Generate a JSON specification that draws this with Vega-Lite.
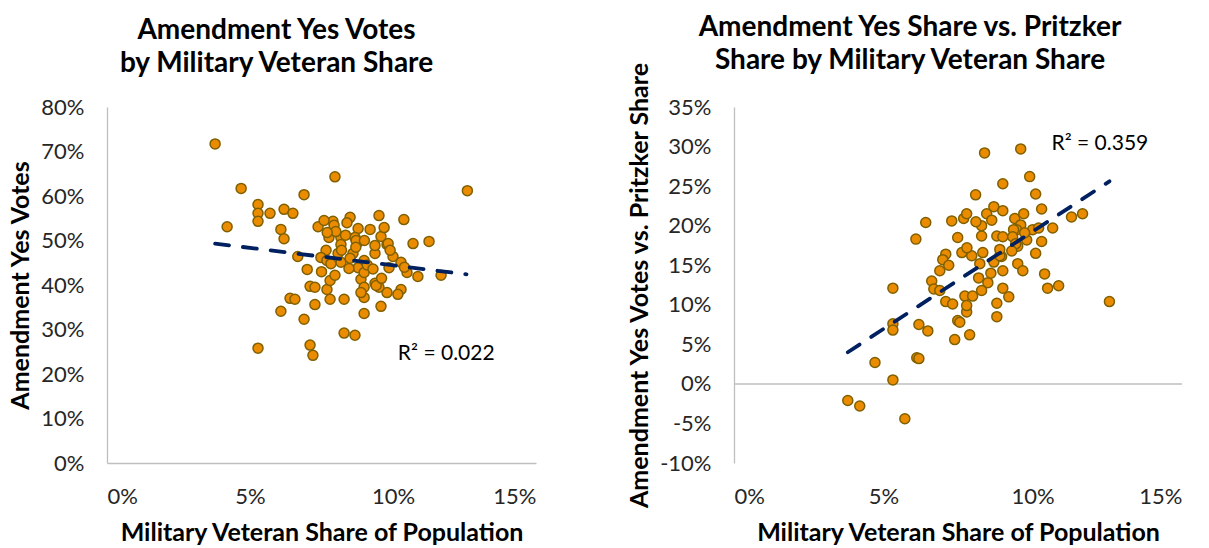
{
  "$schema": "https://vega.github.io/schema/vega-lite/v6.json",
  "background": "white",
  "padding": {"left": 8, "top": 13, "right": 0, "bottom": 0},
  "spacing": 91,
  "config": {
    "view": {"stroke": null},
    "font": "Lato",
    "axis": {
      "grid": false,
      "ticks": false,
      "domainColor": "#BFBFBF",
      "domainWidth": 1.3,
      "labelFont": "Lato",
      "labelFontSize": 22,
      "labelColor": "#262626",
      "labelOverlap": false,
      "titleFont": "Lato",
      "titleFontSize": 25,
      "titleFontWeight": "bold",
      "titleColor": "#000000"
    },
    "title": {"font": "Lato", "fontSize": 28, "fontWeight": "bold", "color": "#000000", "lineHeight": 33}
  },
  "datasets": {
    "yesVotes": [
      {"veteran": 0.0378, "share": 0.717}, {"veteran": 0.0469, "share": 0.617}, {"veteran": 0.042, "share": 0.531},
      {"veteran": 0.0528, "share": 0.581}, {"veteran": 0.0528, "share": 0.561}, {"veteran": 0.0528, "share": 0.543},
      {"veteran": 0.057, "share": 0.561}, {"veteran": 0.0619, "share": 0.570}, {"veteran": 0.065, "share": 0.561},
      {"veteran": 0.0608, "share": 0.525}, {"veteran": 0.0619, "share": 0.504}, {"veteran": 0.0689, "share": 0.603},
      {"veteran": 0.0797, "share": 0.643}, {"veteran": 0.126, "share": 0.612}, {"veteran": 0.0528, "share": 0.258},
      {"veteran": 0.0667, "share": 0.464}, {"veteran": 0.070, "share": 0.435}, {"veteran": 0.071, "share": 0.397},
      {"veteran": 0.0727, "share": 0.395}, {"veteran": 0.064, "share": 0.370}, {"veteran": 0.0657, "share": 0.368},
      {"veteran": 0.0608, "share": 0.341}, {"veteran": 0.0689, "share": 0.323}, {"veteran": 0.0727, "share": 0.356},
      {"veteran": 0.071, "share": 0.265}, {"veteran": 0.072, "share": 0.242}, {"veteran": 0.0738, "share": 0.531},
      {"veteran": 0.0951, "share": 0.556}, {"veteran": 0.1038, "share": 0.547}, {"veteran": 0.107, "share": 0.493},
      {"veteran": 0.1126, "share": 0.498}, {"veteran": 0.1168, "share": 0.422}, {"veteran": 0.1087, "share": 0.419},
      {"veteran": 0.1049, "share": 0.428}, {"veteran": 0.1028, "share": 0.390}, {"veteran": 0.1017, "share": 0.379},
      {"veteran": 0.0979, "share": 0.383}, {"veteran": 0.0958, "share": 0.352}, {"veteran": 0.0899, "share": 0.336},
      {"veteran": 0.0829, "share": 0.292}, {"veteran": 0.0867, "share": 0.287}, {"veteran": 0.0829, "share": 0.368},
      {"veteran": 0.078, "share": 0.368}, {"veteran": 0.0769, "share": 0.390}, {"veteran": 0.078, "share": 0.410},
      {"veteran": 0.0797, "share": 0.422}, {"veteran": 0.0888, "share": 0.413}, {"veteran": 0.0899, "share": 0.395},
      {"veteran": 0.0899, "share": 0.372}, {"veteran": 0.0888, "share": 0.383}, {"veteran": 0.0937, "share": 0.404},
      {"veteran": 0.0951, "share": 0.395}, {"veteran": 0.100, "share": 0.464}, {"veteran": 0.1028, "share": 0.451},
      {"veteran": 0.0986, "share": 0.439}, {"veteran": 0.0937, "share": 0.471}, {"veteran": 0.0937, "share": 0.489},
      {"veteran": 0.0958, "share": 0.509}, {"veteran": 0.0969, "share": 0.529}, {"veteran": 0.0979, "share": 0.491},
      {"veteran": 0.092, "share": 0.525}, {"veteran": 0.0878, "share": 0.527}, {"veteran": 0.085, "share": 0.552},
      {"veteran": 0.0839, "share": 0.540}, {"veteran": 0.079, "share": 0.543}, {"veteran": 0.0759, "share": 0.545},
      {"veteran": 0.0794, "share": 0.534}, {"veteran": 0.0818, "share": 0.507}, {"veteran": 0.0776, "share": 0.507},
      {"veteran": 0.0867, "share": 0.507}, {"veteran": 0.0878, "share": 0.496}, {"veteran": 0.0834, "share": 0.512},
      {"veteran": 0.0818, "share": 0.491}, {"veteran": 0.0766, "share": 0.478}, {"veteran": 0.0748, "share": 0.462},
      {"veteran": 0.0769, "share": 0.455}, {"veteran": 0.0808, "share": 0.471}, {"veteran": 0.086, "share": 0.471},
      {"veteran": 0.0899, "share": 0.455}, {"veteran": 0.0878, "share": 0.439}, {"veteran": 0.0846, "share": 0.437},
      {"veteran": 0.0818, "share": 0.451}, {"veteran": 0.0783, "share": 0.448}, {"veteran": 0.0899, "share": 0.428},
      {"veteran": 0.0941, "share": 0.399}, {"veteran": 0.0871, "share": 0.500}, {"veteran": 0.0983, "share": 0.493},
      {"veteran": 0.082, "share": 0.478}, {"veteran": 0.085, "share": 0.460}, {"veteran": 0.091, "share": 0.445},
      {"veteran": 0.075, "share": 0.430}, {"veteran": 0.096, "share": 0.415}, {"veteran": 0.087, "share": 0.485},
      {"veteran": 0.099, "share": 0.478}, {"veteran": 0.104, "share": 0.440}, {"veteran": 0.093, "share": 0.436},
      {"veteran": 0.080, "share": 0.520}, {"veteran": 0.077, "share": 0.518}, {"veteran": 0.090, "share": 0.500}
    ],
    "yesTrend": [
      {"veteran": 0.0378, "share": 0.493},
      {"veteran": 0.1257, "share": 0.424}
    ],
    "gapVotes": [
      {"veteran": 0.0642, "gap": 0.204}, {"veteran": 0.0609, "gap": 0.183}, {"veteran": 0.0729, "gap": 0.206},
      {"veteran": 0.0769, "gap": 0.209}, {"veteran": 0.0779, "gap": 0.215}, {"veteran": 0.0749, "gap": 0.185},
      {"veteran": 0.0763, "gap": 0.166}, {"veteran": 0.0709, "gap": 0.164}, {"veteran": 0.0699, "gap": 0.157},
      {"veteran": 0.0719, "gap": 0.150}, {"veteran": 0.0689, "gap": 0.143}, {"veteran": 0.0662, "gap": 0.130},
      {"veteran": 0.0669, "gap": 0.120}, {"veteran": 0.0689, "gap": 0.118}, {"veteran": 0.0709, "gap": 0.104},
      {"veteran": 0.0732, "gap": 0.101}, {"veteran": 0.0773, "gap": 0.111}, {"veteran": 0.0779, "gap": 0.091},
      {"veteran": 0.0749, "gap": 0.080}, {"veteran": 0.0739, "gap": 0.056}, {"veteran": 0.0619, "gap": 0.075},
      {"veteran": 0.0649, "gap": 0.067}, {"veteran": 0.0532, "gap": 0.121}, {"veteran": 0.0532, "gap": 0.076},
      {"veteran": 0.0532, "gap": 0.068}, {"veteran": 0.0472, "gap": 0.027}, {"veteran": 0.0612, "gap": 0.033},
      {"veteran": 0.0619, "gap": 0.032}, {"veteran": 0.0532, "gap": 0.005}, {"veteran": 0.0381, "gap": -0.021},
      {"veteran": 0.0421, "gap": -0.028}, {"veteran": 0.0572, "gap": -0.044}, {"veteran": 0.0839, "gap": 0.292},
      {"veteran": 0.096, "gap": 0.297}, {"veteran": 0.099, "gap": 0.262}, {"veteran": 0.090, "gap": 0.253},
      {"veteran": 0.0809, "gap": 0.239}, {"veteran": 0.101, "gap": 0.240}, {"veteran": 0.103, "gap": 0.221},
      {"veteran": 0.087, "gap": 0.224}, {"veteran": 0.090, "gap": 0.219}, {"veteran": 0.0846, "gap": 0.215},
      {"veteran": 0.0863, "gap": 0.207}, {"veteran": 0.094, "gap": 0.209}, {"veteran": 0.096, "gap": 0.201},
      {"veteran": 0.0946, "gap": 0.195}, {"veteran": 0.100, "gap": 0.195}, {"veteran": 0.1067, "gap": 0.197},
      {"veteran": 0.113, "gap": 0.211}, {"veteran": 0.1167, "gap": 0.215}, {"veteran": 0.0829, "gap": 0.200},
      {"veteran": 0.0829, "gap": 0.187}, {"veteran": 0.088, "gap": 0.187}, {"veteran": 0.090, "gap": 0.186},
      {"veteran": 0.098, "gap": 0.182}, {"veteran": 0.103, "gap": 0.180}, {"veteran": 0.095, "gap": 0.174},
      {"veteran": 0.0796, "gap": 0.162}, {"veteran": 0.0833, "gap": 0.166}, {"veteran": 0.0823, "gap": 0.152},
      {"veteran": 0.087, "gap": 0.154}, {"veteran": 0.0896, "gap": 0.161}, {"veteran": 0.090, "gap": 0.143},
      {"veteran": 0.095, "gap": 0.152}, {"veteran": 0.0967, "gap": 0.143}, {"veteran": 0.104, "gap": 0.139},
      {"veteran": 0.105, "gap": 0.121}, {"veteran": 0.1087, "gap": 0.124}, {"veteran": 0.1257, "gap": 0.104},
      {"veteran": 0.0819, "gap": 0.134}, {"veteran": 0.085, "gap": 0.128}, {"veteran": 0.0829, "gap": 0.118},
      {"veteran": 0.0799, "gap": 0.111}, {"veteran": 0.090, "gap": 0.121}, {"veteran": 0.092, "gap": 0.110},
      {"veteran": 0.088, "gap": 0.102}, {"veteran": 0.0779, "gap": 0.099}, {"veteran": 0.088, "gap": 0.085},
      {"veteran": 0.0789, "gap": 0.062}, {"veteran": 0.0756, "gap": 0.078}, {"veteran": 0.102, "gap": 0.197},
      {"veteran": 0.0973, "gap": 0.191}, {"veteran": 0.0936, "gap": 0.195}, {"veteran": 0.0933, "gap": 0.186},
      {"veteran": 0.0943, "gap": 0.177}, {"veteran": 0.089, "gap": 0.162}, {"veteran": 0.078, "gap": 0.172},
      {"veteran": 0.081, "gap": 0.205}, {"veteran": 0.089, "gap": 0.170}, {"veteran": 0.093, "gap": 0.168},
      {"veteran": 0.086, "gap": 0.140}, {"veteran": 0.097, "gap": 0.215}, {"veteran": 0.101, "gap": 0.165}
    ],
    "gapTrend": [
      {"veteran": 0.0381, "gap": 0.040},
      {"veteran": 0.1257, "gap": 0.256}
    ]
  },
  "hconcat": [
    {
      "width": 429,
      "height": 356,
      "title": {"text": ["Amendment Yes Votes", "by Military Veteran Share"], "dx": -45, "offset": 18},
      "layer": [
        {
          "data": {"name": "yesVotes"},
          "mark": {"type": "point", "shape": "circle", "filled": true, "size": 100, "fill": "#EB8C00", "stroke": "#7F6000", "strokeWidth": 1.5, "opacity": 1},
          "encoding": {
            "x": {
              "field": "veteran", "type": "quantitative",
              "scale": {"domain": [0, 0.15], "nice": false},
              "axis": {"format": ".0%", "values": [0, 0.05, 0.1, 0.15], "title": "Military Veteran Share of Population", "labelPadding": 23, "titlePadding": 13}
            },
            "y": {
              "field": "share", "type": "quantitative",
              "scale": {"domain": [0, 0.8], "nice": false},
              "axis": {"format": ".0%", "values": [0, 0.1, 0.2, 0.3, 0.4, 0.5, 0.6, 0.7, 0.8], "tickCount": 12, "labelOverlap": false, "title": "Amendment Yes Votes", "labelPadding": 23, "titlePadding": 7}
            }
          }
        },
        {
          "data": {"name": "yesTrend"},
          "mark": {"type": "line", "color": "#002060", "strokeWidth": 3.8, "strokeDash": [14, 14], "strokeCap": "round"},
          "encoding": {
            "x": {"field": "veteran", "type": "quantitative"},
            "y": {"field": "share", "type": "quantitative"}
          }
        },
        {
          "data": {"values": [{"veteran": 0.1017, "share": 0.244, "label": "R² = 0.022"}]},
          "mark": {"type": "text", "align": "left", "baseline": "middle", "font": "Lato", "fontSize": 21, "color": "#000000"},
          "encoding": {
            "x": {"field": "veteran", "type": "quantitative"},
            "y": {"field": "share", "type": "quantitative"},
            "text": {"field": "label"}
          }
        }
      ]
    },
    {
      "width": 448,
      "height": 356,
      "title": {"text": ["Amendment Yes Share vs. Pritzker", "Share by Military Veteran Share"], "dx": -48, "dy": 32, "offset": 18},
      "layer": [
        {
          "data": {"values": [{"gap": 0}]},
          "mark": {"type": "rule", "color": "#BFBFBF", "strokeWidth": 1.5},
          "encoding": {"y": {"field": "gap", "type": "quantitative"}}
        },
        {
          "data": {"name": "gapVotes"},
          "mark": {"type": "point", "shape": "circle", "filled": true, "size": 100, "fill": "#EB8C00", "stroke": "#7F6000", "strokeWidth": 1.5, "opacity": 1},
          "encoding": {
            "x": {
              "field": "veteran", "type": "quantitative",
              "scale": {"domain": [0, 0.15], "nice": false},
              "axis": {"format": ".0%", "values": [0, 0.05, 0.1, 0.15], "title": "Military Veteran Share of Population", "domain": false, "labelPadding": 23, "titlePadding": 13}
            },
            "y": {
              "field": "gap", "type": "quantitative",
              "scale": {"domain": [-0.1, 0.35001], "nice": false},
              "axis": {
                "values": [-0.1, -0.05, 0, 0.05, 0.1, 0.15, 0.2, 0.25, 0.3, 0.35],
                "tickCount": 12,
                "labelExpr": "replace(format(datum.value, '.0%'), '−', '-')",
                "labelOverlap": false,
                "title": "Amendment Yes Votes vs. Pritzker Share", "labelPadding": 23, "titlePadding": 7
              }
            }
          }
        },
        {
          "data": {"name": "gapTrend"},
          "mark": {"type": "line", "color": "#002060", "strokeWidth": 3.8, "strokeDash": [14, 14], "strokeCap": "round"},
          "encoding": {
            "x": {"field": "veteran", "type": "quantitative"},
            "y": {"field": "gap", "type": "quantitative"}
          }
        },
        {
          "data": {"values": [{"veteran": 0.1063, "gap": 0.303, "label": "R² = 0.359"}]},
          "mark": {"type": "text", "align": "left", "baseline": "middle", "font": "Lato", "fontSize": 21, "color": "#000000"},
          "encoding": {
            "x": {"field": "veteran", "type": "quantitative"},
            "y": {"field": "gap", "type": "quantitative"},
            "text": {"field": "label"}
          }
        }
      ]
    }
  ]
}
